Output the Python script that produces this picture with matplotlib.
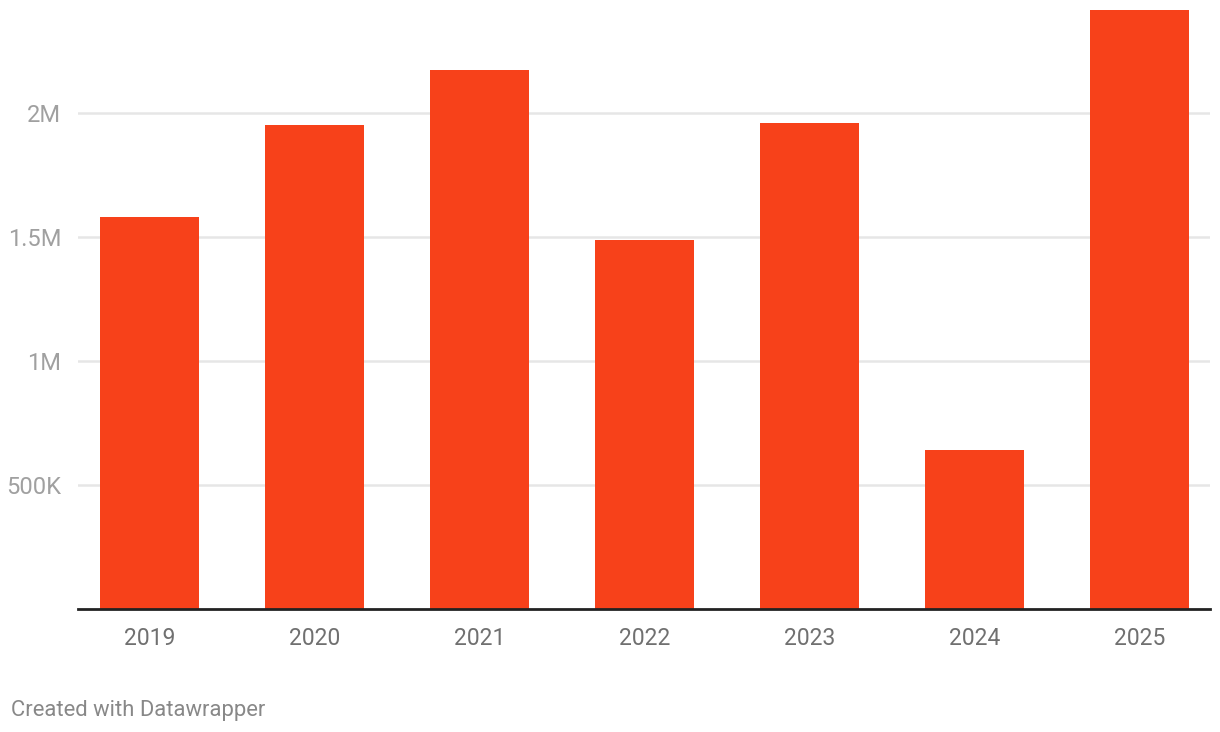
import matplotlib
matplotlib.use("Agg")
import matplotlib.pyplot as plt

years = ["2019", "2020", "2021", "2022", "2023", "2024", "2025"]
values = [1581000, 1952000, 2173000, 1488000, 1960000, 641000, 2415000]
y_ticks = [500000, 1000000, 1500000, 2000000]
y_tick_labels = ["500K", "1M", "1.5M", "2M"]

plt.rcParams['font.family'] = ['Roboto', 'DejaVu Sans']

W, H = 1220, 732
fig = plt.figure(figsize=(W / 100, H / 100), dpi=100)
left, right, bottom_px, top_px = 78, 1210, 609, 0
ax = fig.add_axes([left / W, (H - bottom_px) / H, (right - left) / W, (bottom_px - top_px) / H])

x = list(range(len(years)))
ax.bar(x, values, width=0.6, color="#F7411A", zorder=2)

ax.set_xlim(-0.433, len(years) - 1 + 0.427)
ax.set_ylim(0, 609 / 248 * 1e6)

ax.set_yticks(y_ticks)
ax.set_yticklabels(y_tick_labels)
ax.set_xticks(x)
ax.set_xticklabels(years)

for y in y_ticks:
    ax.axhline(y, color="#e6e6e6", lw=1.8, zorder=1)
ax.axhline(0, color="#222222", lw=2, zorder=3, clip_on=False)

for s in ax.spines.values():
    s.set_visible(False)

ax.tick_params(axis="y", length=0, pad=12, labelsize=17, labelcolor="#a0a0a0")
ax.tick_params(axis="x", length=0, pad=13, labelsize=16.5, labelcolor="#707070")

fig.text(11 / W, (H - 716) / H, "Created with Datawrapper", fontsize=15.8, color="#888888",
         ha="left", va="baseline")

fig.savefig("out.png", dpi=100, facecolor="white")
